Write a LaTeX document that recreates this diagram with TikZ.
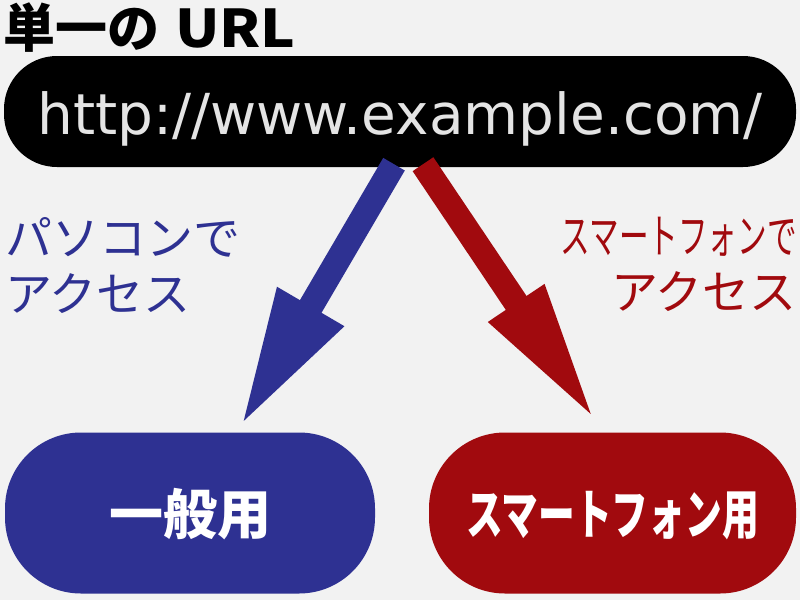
\documentclass[tikz,border=0pt]{standalone}
\usepackage{fontspec}
\newfontfamily\jpfont{Noto Sans CJK JP}
\newfontfamily\dvsfont{DejaVu Sans}
\usetikzlibrary{arrows.meta,calc}
\definecolor{bgc}{RGB}{242,242,242}
\definecolor{pcblue}{RGB}{46,49,146}
\definecolor{spred}{RGB}{161,10,14}
\definecolor{urltext}{RGB}{228,228,228}
\begin{document}
\begin{tikzpicture}[x=1pt,y=-1pt,
  pill/.style={rectangle, inner sep=0pt, text depth=0pt},
  pilltext/.style={text=white, font=\jpfont\bfseries\fontsize{54}{54}\selectfont, text height=42pt},
  lbl/.style={inner sep=0pt, font=\jpfont\fontsize{47}{56}\selectfont},
  bigarrow/.style={line width=25pt}]
\useasboundingbox (0,0) rectangle (800,600);
\fill[bgc] (0,0) rectangle (800,600);

\node[anchor=base west, inner sep=0pt, font=\jpfont\bfseries\fontsize{52}{52}\selectfont] (title) at (3,47) {単一の\hspace{16pt}\scalebox{1.12}[1]{URL}};

\node[pill, fill=black, rounded corners=53pt, minimum width=792pt, minimum height=111pt,
      text=urltext, font=\dvsfont\fontsize{56.5}{60}\selectfont, text height=46pt] (url) at (400,111.5) {http://www.example.com/};

\node[pill, pilltext, fill=pcblue, rounded corners=76pt, minimum width=370pt, minimum height=161pt] (gen) at (190,513) {一般用};
\node[pill, pilltext, fill=spred, rounded corners=76pt, minimum width=367pt, minimum height=161pt] (smart) at (612.5,513) {\scalebox{0.68}[1]{スマートフォン用}};

\draw[bigarrow, pcblue, -{Triangle[width=70pt,length=140pt]}] ($(url.south)+(-6,-3)$) -- ($(gen.north)+(50,-5)$);
\draw[bigarrow, spred, -{Triangle[width=60pt,length=145pt]}] ($(url.south)+(23,-3)$) -- ($(smart.north)+(-15.5,-9)$);

\node[lbl, text=pcblue, anchor=north west, align=left] (pc) at (5,217) {パソコンで\\アクセス};
\node[lbl, text=spred, anchor=north east, align=right] (sp) at (797,217) {\scalebox{0.63}[1]{スマートフォンで}\\アクセス};
\end{tikzpicture}
\end{document}
